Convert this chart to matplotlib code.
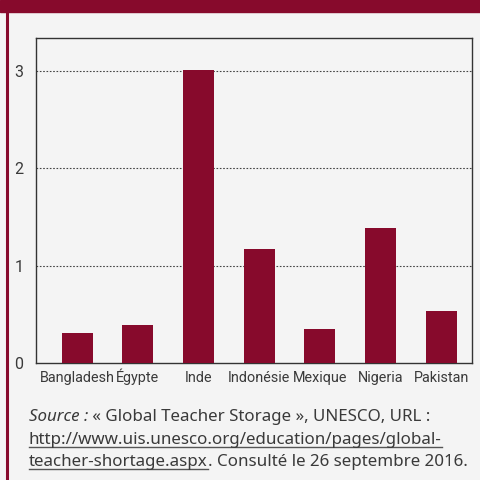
"""Bar chart: teacher shortage by country (UNESCO)."""

import matplotlib

matplotlib.use("Agg")
import matplotlib.pyplot as plt
from matplotlib.lines import Line2D

MAROON = "#870a2c"
BG = "#f4f4f4"
TEXT = "#3a3a3a"

countries = ["Bangladesh", "Égypte", "Inde", "Indonésie", "Mexique", "Nigeria", "Pakistan"]
values = [0.31, 0.39, 3.01, 1.17, 0.35, 1.39, 0.53]
y_ticks = [0, 1, 2, 3]

source_lines = [
    [("Source :", "italic", False), (" « Global Teacher Storage », UNESCO, URL :", "normal", False)],
    [("http://www.uis.unesco.org/education/pages/global-", "normal", True)],
    [("teacher-shortage.aspx", "normal", True), (". Consulté le 26 septembre 2016.", "normal", False)],
]

NARROW = ["Roboto", "DejaVu Sans"]
plt.rcParams["font.family"] = ["Noto Sans", "DejaVu Sans"]

fig = plt.figure(figsize=(4.8, 4.8), dpi=100, facecolor=BG)
W, H = 480, 480

# top band and left rule
fig.patches.append(plt.Rectangle((0, 1 - 12 / H), 1, 12 / H, transform=fig.transFigure,
                                 color=MAROON, zorder=0))
fig.add_artist(Line2D([7 / W, 7 / W], [0, 1 - 12 / H], transform=fig.transFigure,
                      color=MAROON, lw=2.2))

ax = fig.add_axes([36 / W, 1 - 363 / H, 436 / W, 325 / H])
ax.set_facecolor(BG)
x = list(range(len(countries)))
ax.bar(x, values, width=0.51, color=MAROON, zorder=3)
ax.set_xlim(-0.68, 6.51)
ax.set_ylim(0, 3.34)
ax.set_yticks(y_ticks)
ax.set_xticks(x)
ax.set_xticklabels(countries, va="baseline", family=NARROW, fontsize=10.4)
ax.tick_params(axis="both", length=0, colors=TEXT)
ax.tick_params(axis="y", pad=9)
ax.tick_params(axis="x", pad=13.5)
for lab in ax.get_yticklabels():
    lab.set_family(NARROW)
    lab.set_fontsize(11.5)
for t in y_ticks[1:]:
    ax.axhline(t, color="#444444", lw=0.8, ls=(0, (1.5, 1.5)), zorder=2)
for s in ax.spines.values():
    s.set_color("#333333")
    s.set_linewidth(1)

# source note
fig.canvas.draw()
renderer = fig.canvas.get_renderer()
baselines = [421, 444, 466]
for parts, yb in zip(source_lines, baselines):
    xp = 29
    for txt, style, underline in parts:
        t = fig.text(xp / W, 1 - yb / H, txt, fontsize=12.2, style=style, color=TEXT,
                     va="baseline", ha="left")
        bb = t.get_window_extent(renderer)
        if underline:
            fig.add_artist(Line2D([bb.x0 / W, bb.x1 / W], [1 - (yb + 3) / H] * 2,
                                  transform=fig.transFigure, color="#555555", lw=1))
        xp += bb.width

fig.savefig("out.png", dpi=100, facecolor=BG)
